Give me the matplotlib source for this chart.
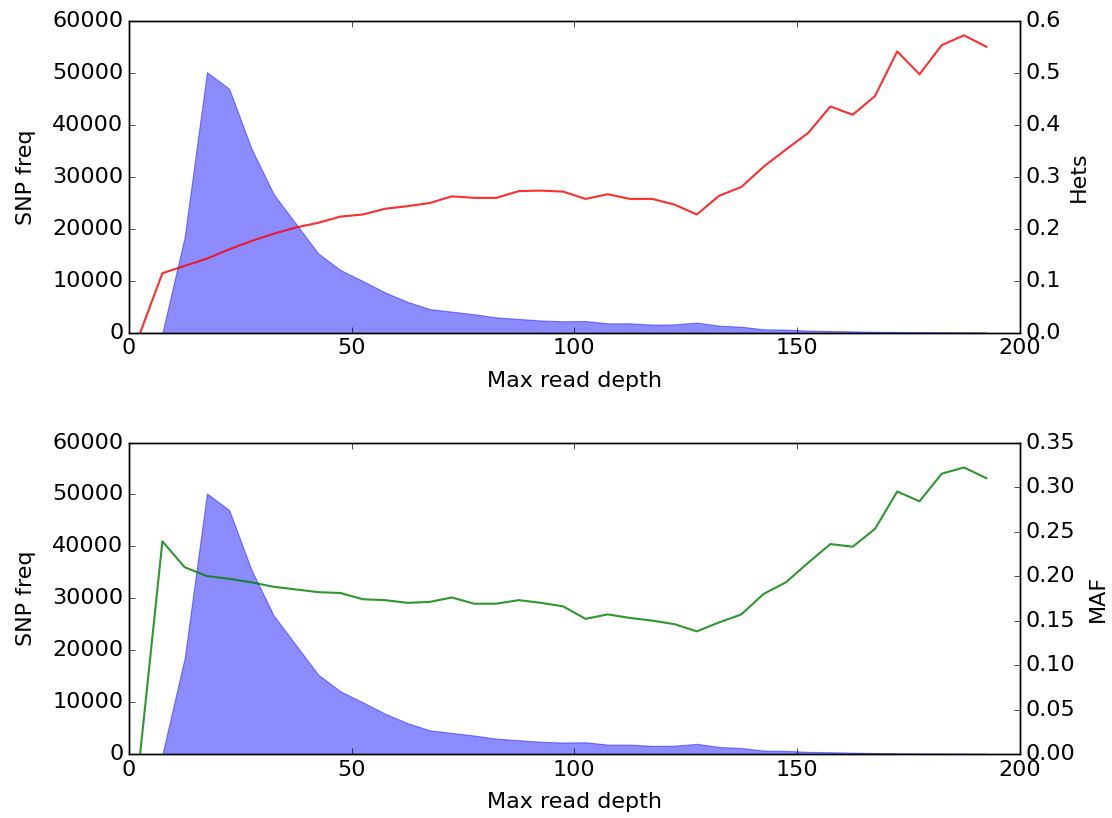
import numpy as np
import matplotlib
matplotlib.use("Agg")
import matplotlib.pyplot as plt
from matplotlib.ticker import FormatStrFormatter

plt.style.use("classic")

# binned read depth (bin centres)
depth = np.arange(2.5, 195, 5)

snp_freq = [0, 0, 18500, 50200, 47000, 35500, 26700, 21000, 15300, 12100,
            10000, 7800, 6000, 4600, 4100, 3600, 3000, 2700, 2400, 2250,
            2300, 1850, 1850, 1600, 1650, 2000, 1400, 1200, 700, 650,
            450, 380, 300, 220, 180, 150, 120, 100, 80]

hets = [0.0, 0.115, 0.129, 0.143, 0.161, 0.177, 0.191, 0.203, 0.212, 0.224,
        0.228, 0.239, 0.244, 0.250, 0.263, 0.260, 0.260, 0.273, 0.274, 0.272,
        0.258, 0.267, 0.258, 0.258, 0.247, 0.228, 0.264, 0.281, 0.320, 0.353,
        0.385, 0.436, 0.420, 0.456, 0.542, 0.498, 0.554, 0.573, 0.551]

maf = [0.0, 0.239, 0.210, 0.200, 0.197, 0.193, 0.188, 0.185, 0.182, 0.181,
       0.174, 0.173, 0.170, 0.171, 0.176, 0.169, 0.169, 0.173, 0.170, 0.166,
       0.152, 0.157, 0.153, 0.150, 0.146, 0.138, 0.148, 0.157, 0.180, 0.193,
       0.215, 0.236, 0.233, 0.253, 0.295, 0.284, 0.315, 0.322, 0.310]

fig = plt.figure(figsize=(11.12, 8.18), dpi=100, facecolor="white")
fs = 16

panels = [
    (hets, "Hets", "r", [0.116, 0.593, 0.801, 0.381], (0, 0.6), 0.1, "%.1f", 6),
    (maf, "MAF", "g", [0.116, 0.078, 0.801, 0.381], (0, 0.35), 0.05, "%.2f", 9),
]

for vals, name, col, pos, lim, step, fmt, pad in panels:
    ax = fig.add_axes(pos)
    ax.fill_between(depth, snp_freq, 0, color="b", alpha=0.45, edgecolor="b", linewidth=0.8)
    ax.set_xlim(0, 200)
    ax.set_ylim(0, 60000)
    ax.set_ylabel("SNP freq", fontsize=fs, labelpad=12)
    ax.set_xlabel("Max read depth", fontsize=fs, labelpad=9)
    ax.tick_params(labelsize=fs, right=False)
    ax2 = ax.twinx()
    ax2.plot(depth, vals, color=col, linewidth=1.5, alpha=0.82)
    ax2.set_ylim(*lim)
    ax2.set_yticks(np.arange(lim[0], lim[1] + step / 2, step))
    ax2.yaxis.set_major_formatter(FormatStrFormatter(fmt))
    ax2.set_ylabel(name, fontsize=fs, labelpad=pad)
    ax2.tick_params(labelsize=fs)
    ax2.set_xlim(0, 200)

fig.savefig("out.png", dpi=100, facecolor="white")
